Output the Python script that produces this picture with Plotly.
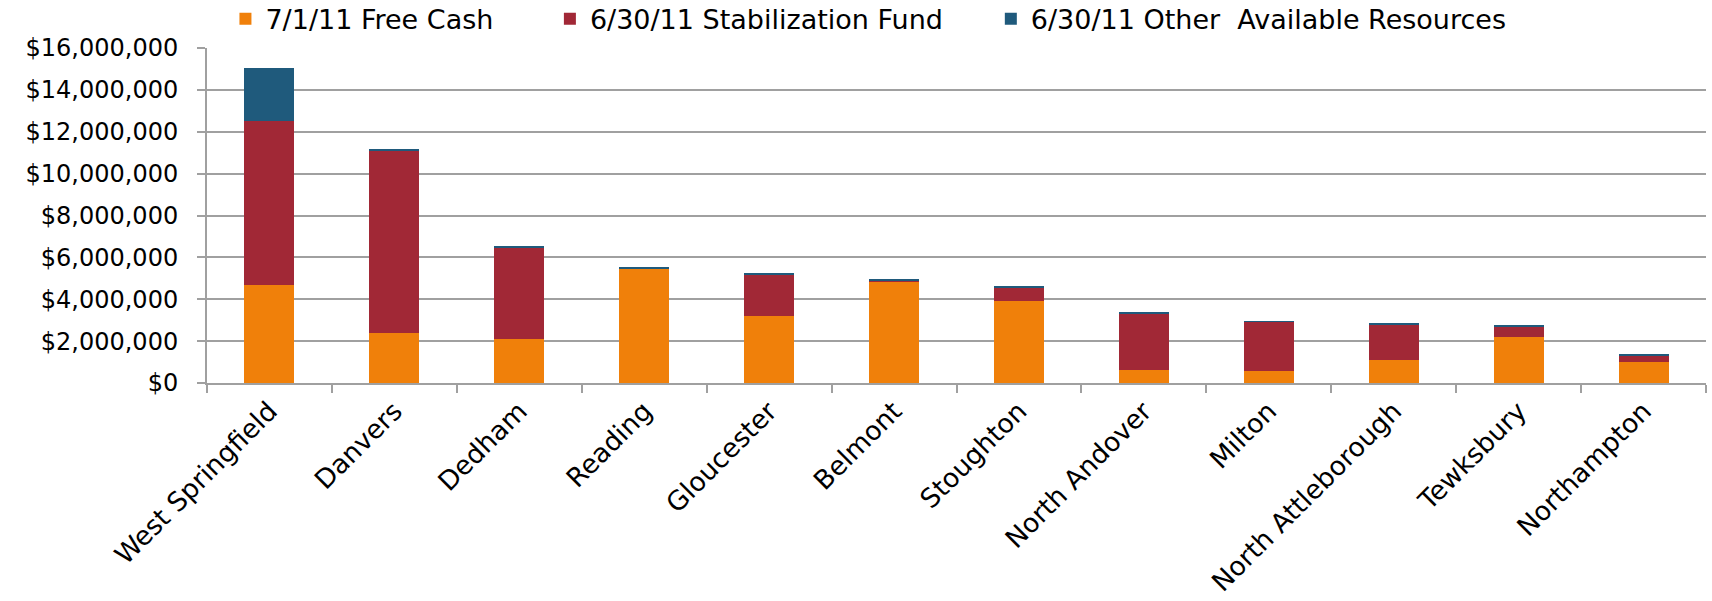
import plotly.graph_objects as go

municipalities = ["West Springfield", "Danvers", "Dedham", "Reading", "Gloucester", "Belmont",
                  "Stoughton", "North Andover", "Milton", "North Attleborough", "Tewksbury", "Northampton"]
free_cash = [4690000, 2400000, 2100000, 5490000, 3220000, 4870000,
             3900000, 620000, 570000, 1110000, 2180000, 980000]
stabilization_fund = [7810000, 8720000, 4360000, 0, 1970000, 20000,
                      680000, 2710000, 2360000, 1690000, 500000, 340000]
other_resources = [2530000, 30000, 50000, 40000, 40000, 50000,
                   50000, 50000, 30000, 20000, 60000, 30000]
series_names = ["7/1/11 Free Cash", "6/30/11 Stabilization Fund", "6/30/11 Other\u00a0 Available Resources"]
legend_padding = [6, 5, 0]
colors = ["#F0800A", "#A12836", "#1F5A7C"]

FONT = "DejaVu Sans, Verdana, sans-serif"

fig = go.Figure()
for name, pad, vals, col in zip(series_names, legend_padding,
                                [free_cash, stabilization_fund, other_resources], colors):
    fig.add_trace(go.Bar(x=municipalities, y=vals, name=name + "\u00a0" * pad,
                         marker=dict(color=col, line=dict(width=0))))

fig.update_layout(
    barmode="stack",
    bargap=0.6,
    width=1712, height=601,
    margin=dict(l=207, r=6, t=48, b=218, autoexpand=False),
    paper_bgcolor="white", plot_bgcolor="white",
    font=dict(family=FONT, color="#000000", size=24),
    showlegend=True,
    legend=dict(orientation="h", x=0.0123, xanchor="left", yref="container", y=0.968, yanchor="middle",
                font=dict(family=FONT, size=27, color="#000000"),
                traceorder="normal", itemwidth=30, bgcolor="rgba(0,0,0,0)"),
)
fig.update_yaxes(range=[0, 16000000], dtick=2000000, tickprefix="$", tickformat=",",
                 showgrid=True, gridcolor="#A0A0A0", gridwidth=2,
                 showline=True, linecolor="#A0A0A0", linewidth=2,
                 ticks="outside", ticklen=8, tickcolor="#A0A0A0", tickwidth=2,
                 ticklabelstandoff=14, automargin=False,
                 tickfont=dict(family=FONT, size=24, color="#000000"), zeroline=False)
fig.update_xaxes(showline=True, linecolor="#A0A0A0", linewidth=2,
                 ticks="outside", ticklen=8, tickcolor="#A0A0A0", tickwidth=2, tickson="boundaries",
                 tickangle=-45, automargin=False,
                 tickfont=dict(family=FONT, size=26.5, color="#000000"), showgrid=False)

fig.write_html("out.html", config={"displayModeBar": False},
               post_script="document.body.style.margin='0px';")
